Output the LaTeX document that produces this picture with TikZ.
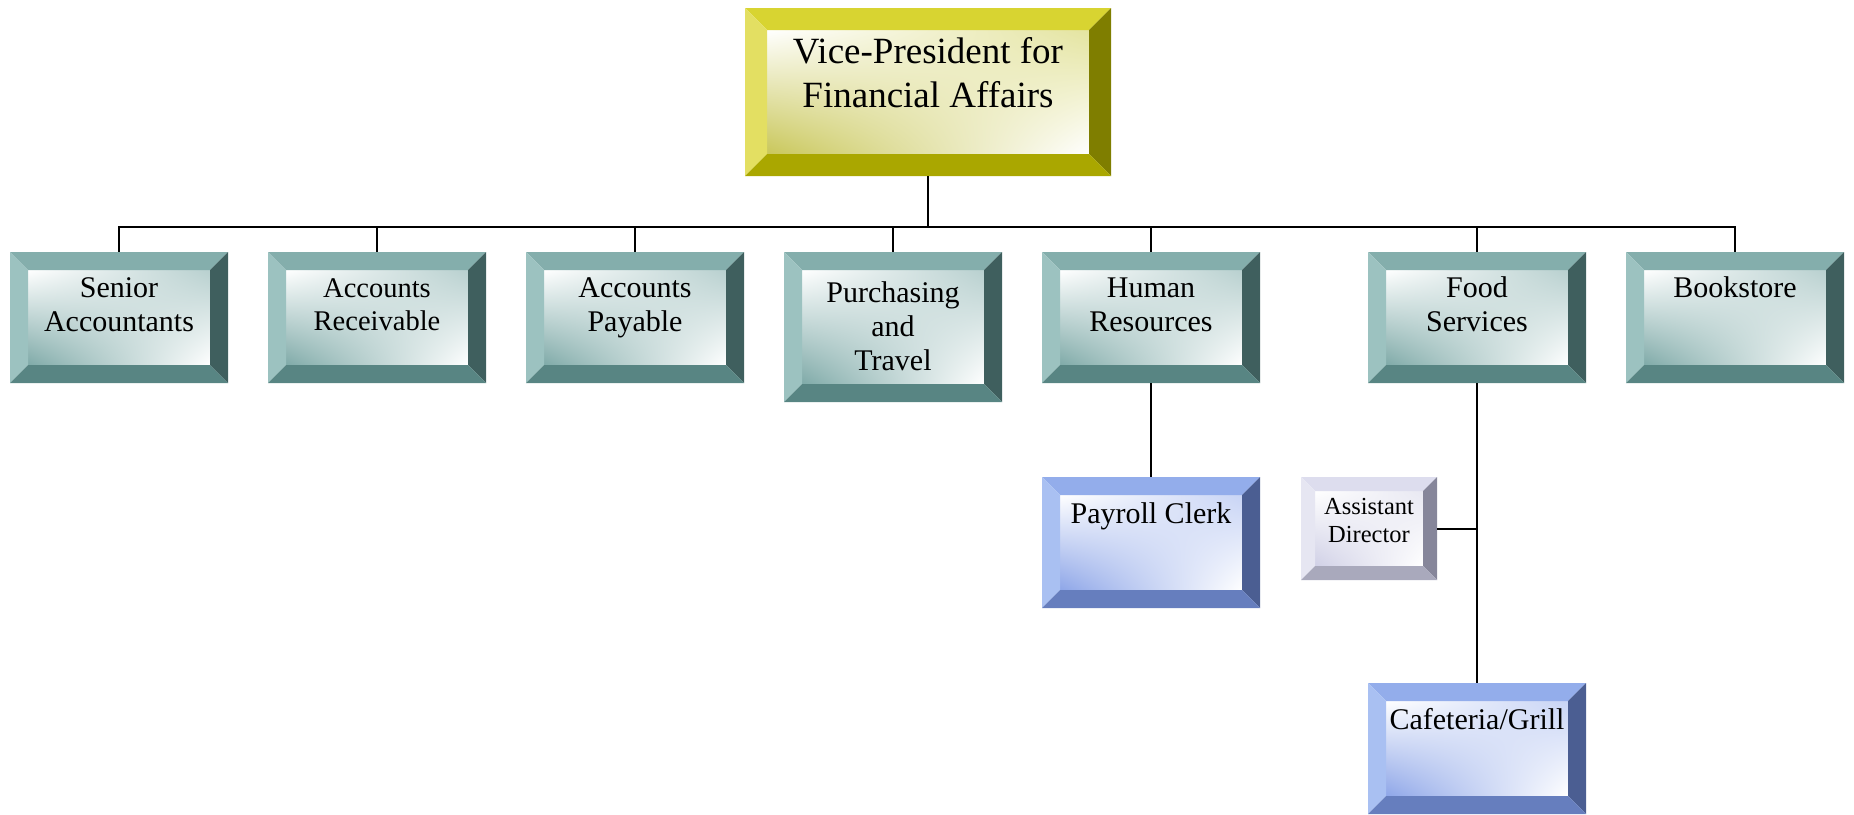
\documentclass[tikz,border=0pt]{standalone}
\usepackage{fontspec}
\setmainfont{Liberation Serif}
\usepackage{tikz}
\usetikzlibrary{shadings}
\definecolor{vpT}{HTML}{D8D431}
\definecolor{vpL}{HTML}{E3DF62}
\definecolor{vpR}{HTML}{7F7E00}
\definecolor{vpB}{HTML}{AAA700}
\definecolor{vpF}{HTML}{C9C75A}
\definecolor{vpG}{HTML}{E4E4A0}
\definecolor{deptT}{HTML}{84AEAC}
\definecolor{deptL}{HTML}{9CC2C0}
\definecolor{deptR}{HTML}{3F5F5E}
\definecolor{deptB}{HTML}{588583}
\definecolor{deptF}{HTML}{7FAAA8}
\definecolor{deptG}{HTML}{B8D0CF}
\definecolor{staffT}{HTML}{93ADEB}
\definecolor{staffL}{HTML}{A9C0F2}
\definecolor{staffR}{HTML}{4B5E92}
\definecolor{staffB}{HTML}{667EBE}
\definecolor{staffF}{HTML}{8EA6E8}
\definecolor{staffG}{HTML}{C8D4F5}
\definecolor{asstT}{HTML}{DDDDEE}
\definecolor{asstL}{HTML}{E6E6F2}
\definecolor{asstR}{HTML}{86869A}
\definecolor{asstB}{HTML}{A9A9BC}
\definecolor{asstF}{HTML}{D0D0E6}
\definecolor{asstG}{HTML}{E8E8F2}
\tikzset{
  bevel/.style 2 args={path picture={
    \coordinate (nw) at (path picture bounding box.north west);
    \coordinate (ne) at (path picture bounding box.north east);
    \coordinate (sw) at (path picture bounding box.south west);
    \coordinate (se) at (path picture bounding box.south east);
    \coordinate (inw) at ([xshift=#2,yshift=-#2]nw);
    \coordinate (ine) at ([xshift=-#2,yshift=-#2]ne);
    \coordinate (isw) at ([xshift=#2,yshift=#2]sw);
    \coordinate (ise) at ([xshift=-#2,yshift=#2]se);
    \shade[upper left=white, lower right=white, lower left=#1F, upper right=#1G] (inw) rectangle (ise);
    \fill[#1T] (nw) -- (ne) -- (ine) -- (inw) -- cycle;
    \fill[#1L] (nw) -- (inw) -- (isw) -- (sw) -- cycle;
    \fill[#1R] (ne) -- (se) -- (ise) -- (ine) -- cycle;
    \fill[#1B] (sw) -- (isw) -- (ise) -- (se) -- cycle;
  }},
  box size/.code n args={3}{\def\boxw{#1}\def\boxh{#2}\def\firstbl{#3}}
}
\tikzstyle{orgbox} = [rectangle, inner sep=0pt, outer sep=0pt, execute at begin node={\begin{minipage}[c][\boxh][t]{\boxw}\centering\rule{0pt}{\firstbl}}, execute at end node={\end{minipage}}]
\tikzstyle{vpbox} = [orgbox, bevel={vp}{22pt}, box size={366pt}{168pt}{55pt}, font=\fontsize{37}{44}\selectfont]
\tikzstyle{deptbox} = [orgbox, bevel={dept}{18pt}, box size={218pt}{131pt}{45pt}, font=\fontsize{30}{34}\selectfont]
\tikzstyle{tallbox} = [deptbox, box size={218pt}{150pt}{50pt}]
\tikzstyle{staffbox} = [orgbox, bevel={staff}{18pt}, box size={218pt}{131pt}{46pt}, font=\fontsize{30}{34}\selectfont]
\tikzstyle{asstbox} = [orgbox, bevel={asst}{14pt}, box size={136pt}{103pt}{37pt}, font=\fontsize{24.5}{28}\selectfont]
\tikzstyle{conn} = [line width=2pt]

\begin{document}
\begin{tikzpicture}[x=1pt, y=-1pt, node distance=258pt]
\useasboundingbox (0,0) rectangle (1854,814);
\node (vp) [vpbox] at (928,92) {Vice-President for\\Financial Affairs};
\node (senior) [deptbox] at (119,317.5) {Senior\\Accountants};
\node (receivable) [deptbox, right of = senior, font=\fontsize{28.5}{33}\selectfont] {Accounts\\Receivable};
\node (payable) [deptbox, right of = receivable] {Accounts\\Payable};
\node (purchasing) [tallbox, right of = payable, yshift=-9.5pt] {Purchasing\\and\\Travel};
\node (hr) [deptbox, right of = purchasing, yshift=9.5pt] {Human\\Resources};
\node (food) [deptbox, right of = hr, xshift=68pt] {Food\\Services};
\node (bookstore) [deptbox, right of = food] {Bookstore};
\node (payroll) [staffbox, below of = hr, yshift=33pt] {Payroll Clerk};
\node (cafe) [staffbox, below of = food, yshift=-173pt] {Cafeteria/Grill};
\node (asst) [asstbox] at (1369,528.5) {Assistant\\Director};
\coordinate (bus) at (928,227);
\draw [conn] (vp) -- (bus);
\draw [conn] (bus) -| (senior);
\draw [conn] (bus) -| (receivable);
\draw [conn] (bus) -| (payable);
\draw [conn] (bus) -| (purchasing);
\draw [conn] (bus) -| (hr);
\draw [conn] (bus) -| (food);
\draw [conn] (bus) -| (bookstore);
\draw [conn] (hr) -- (payroll);
\draw [conn] (food) -- (cafe);
\draw [conn] (asst) -- (asst -| food);
\end{tikzpicture}
\end{document}
